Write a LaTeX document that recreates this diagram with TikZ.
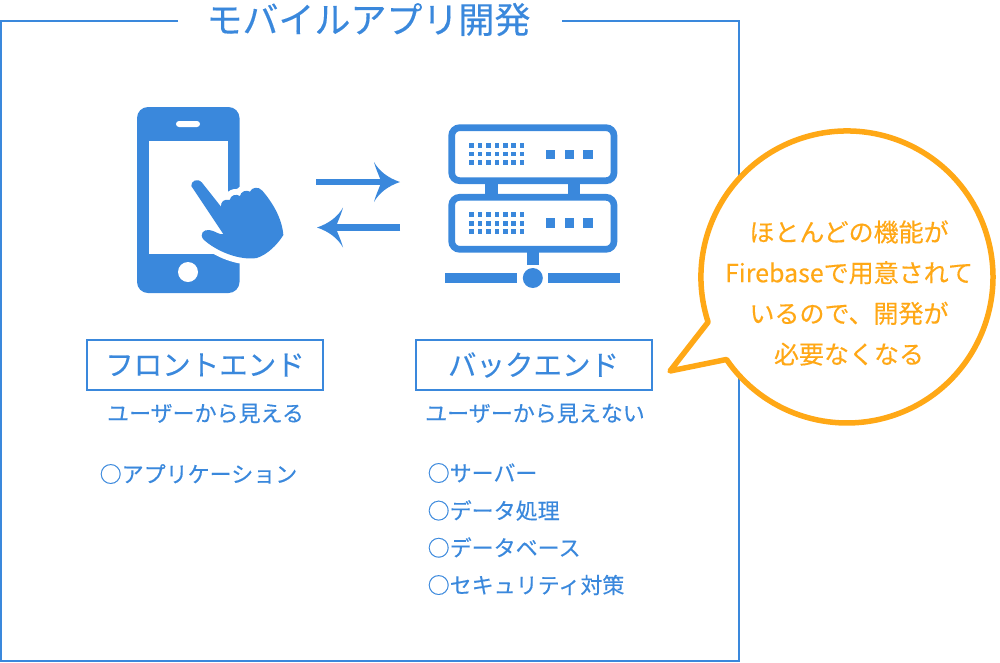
\documentclass[tikz,border=0pt]{standalone}
\usepackage{fontspec}
\setmainfont{Noto Sans CJK JP}[RawFeature={embolden=0.25}]
\usetikzlibrary{arrows.meta}
\definecolor{mblue}{HTML}{3A88DC}
\definecolor{morange}{HTML}{FFA816}
\pgfdeclarearrow{
  name = Barb,
  setup code = {
    \pgfarrowssettipend{0pt}
    \pgfarrowssetbackend{-26pt}
    \pgfarrowssetlineend{-18pt}
    \pgfarrowssetvisualbackend{-20pt}
    \pgfarrowshullpoint{0pt}{0pt}
    \pgfarrowshullpoint{-26pt}{20pt}
    \pgfarrowshullpoint{-26pt}{-20pt}
  },
  drawing code = {
    \pgfsetlinewidth{0pt}
    \pgfpathmoveto{\pgfpoint{0pt}{0pt}}
    \pgfpathcurveto{\pgfpoint{-12pt}{4pt}}{\pgfpoint{-21pt}{11pt}}{\pgfpoint{-26pt}{20pt}}
    \pgfpathcurveto{\pgfpoint{-24pt}{12pt}}{\pgfpoint{-20pt}{5pt}}{\pgfpoint{-19pt}{0pt}}
    \pgfpathcurveto{\pgfpoint{-20pt}{-5pt}}{\pgfpoint{-24pt}{-12pt}}{\pgfpoint{-26pt}{-20pt}}
    \pgfpathcurveto{\pgfpoint{-21pt}{-11pt}}{\pgfpoint{-12pt}{-4pt}}{\pgfpoint{0pt}{0pt}}
    \pgfpathclose
    \pgfusepathqfill
  }
}
\tikzset{
  frameline/.style={draw=mblue,line width=2pt},
  labelbox/.style={draw=mblue,line width=2pt,minimum width=236pt,minimum height=50pt,inner sep=0pt,text=mblue,font=\fontsize{28.5pt}{30pt}\selectfont},
  subtext/.style={text=mblue,inner sep=0pt,font=\fontsize{22pt}{24pt}\selectfont},
  listitem/.style={subtext,anchor=west},
  flow/.style={draw=mblue,line width=6.5pt,-{Barb}},
  srvbox/.style={draw=mblue,line width=6.7pt,rounded corners=8pt},
  solid fill/.style={fill=mblue,draw=none},
}
\begin{document}
\begin{tikzpicture}[x=1pt,y=-1pt]
\useasboundingbox (0,0) rectangle (1000,662);
% frame
\coordinate (fa) at (178,21);
\coordinate (fb) at (562,21);
\draw[frameline] (fa) -- (1,21) -- (1,661) -- (739,661) -- (739,21) -- (fb);
\node[text=mblue,inner sep=0pt,font=\fontsize{36pt}{38pt}\selectfont] (title) at (368.5,19.5) {モバイルアプリ開発};
% phone
\fill[solid fill,rounded corners=11pt] (137,107) rectangle (239.5,293);
\fill[white] (149,141) rectangle (227.5,254);
\fill[white,rounded corners=3pt] (176,121) rectangle (200,127);
\fill[white] (188,272) circle (10);
\begin{scope}[x=0.33333pt,y=-0.33333pt,shift={(360,270)}]
\def\handpath{(214,288) .. controls (212,274) and (232,262) .. (246,278)
 -- (303,350) .. controls (302,335) and (312,326) .. (329,330)
 .. controls (332,315) and (348,311) .. (360,318)
 .. controls (362,305) and (378,298) .. (390,305)
 .. controls (395,292) and (415,288) .. (427,302)
 .. controls (458,338) and (486,385) .. (490,435)
 .. controls (472,465) and (440,495) .. (410,504)
 .. controls (360,512) and (290,485) .. (250,448)
 .. controls (238,432) and (250,418) .. (268,420)
 .. controls (285,422) and (298,436) .. (310,432)
 -- cycle}
\fill[white] (300,340) rectangle (400,360);
\draw[white,line width=12pt,line join=round] \handpath;
\fill[mblue] \handpath;
\end{scope}
% arrows
\coordinate (au) at (316,182);
\coordinate (av) at (400,182);
\coordinate (bu) at (400,227.5);
\coordinate (bv) at (317,227.5);
\draw[flow] (au) -- (av);
\draw[flow] (bu) -- (bv);
% server
\draw[srvbox] (451.7,127.7) rectangle (614,180.7);
\draw[srvbox] (451.7,197.3) rectangle (614,249.3);
\fill[solid fill] (485,183) rectangle (497.7,195);
\fill[solid fill] (567.7,183) rectangle (580.3,195);
\fill[solid fill] (526.7,252) rectangle (539.3,265);
\fill[solid fill] (445,273) rectangle (517,283.3);
\fill[solid fill] (547.7,273) rectangle (620,283.3);
\fill[mblue] (532.8,278) circle (10);
\foreach \c in {124,149.5,175,201,226,251,276}{
  \foreach \r in {107,132,158,314,340,365}{
    \fill[solid fill] ({430+\c/3-2.2},{110+\r/3-2.2}) rectangle ++(4.4,4.4);
  }
}
\foreach \c in {362,418,474}{
  \foreach \r in {133,339}{
    \fill[solid fill] ({430+\c/3-4.7},{110+\r/3-4.7}) rectangle ++(9.4,9.4);
  }
}
% labels
\node[labelbox] (front) at (205,365) {\raisebox{-1.5pt}{フロントエンド}};
\node[labelbox] (back) at (533.5,365) {\raisebox{-1.5pt}{バックエンド}};
\node[subtext] (fs) at (205.5,413.5) {ユーザーから見える};
\node[subtext] (bs) at (535,413.5) {ユーザーから見えない};
\node[listitem] (f1) at (99.5,474) {○アプリケーション};
\node[listitem] (b1) at (427.5,473) {○サーバー};
\node[listitem] (b2) at (427.5,510.5) {○データ処理};
\node[listitem] (b3) at (427.5,547.5) {○データベース};
\node[listitem] (b4) at (427.5,585) {○セキュリティ対策};
% bubble
\coordinate (bstart) at (708.1,322.1);
\coordinate (btip) at (670,371);
\draw[draw=morange,fill=white,line width=5.5pt,line join=round]
  (bstart) arc[start angle=198,end angle=-145.6,radius=146pt] -- (btip) -- cycle;
\node[text=morange,inner sep=0pt,align=center,font=\fontsize{25pt}{40.7pt}\selectfont] (bubble) at (849,293)
 {ほとんどの機能が\\Firebaseで用意されて\\いるので、開発が\\必要なくなる};
\end{tikzpicture}
\end{document}
